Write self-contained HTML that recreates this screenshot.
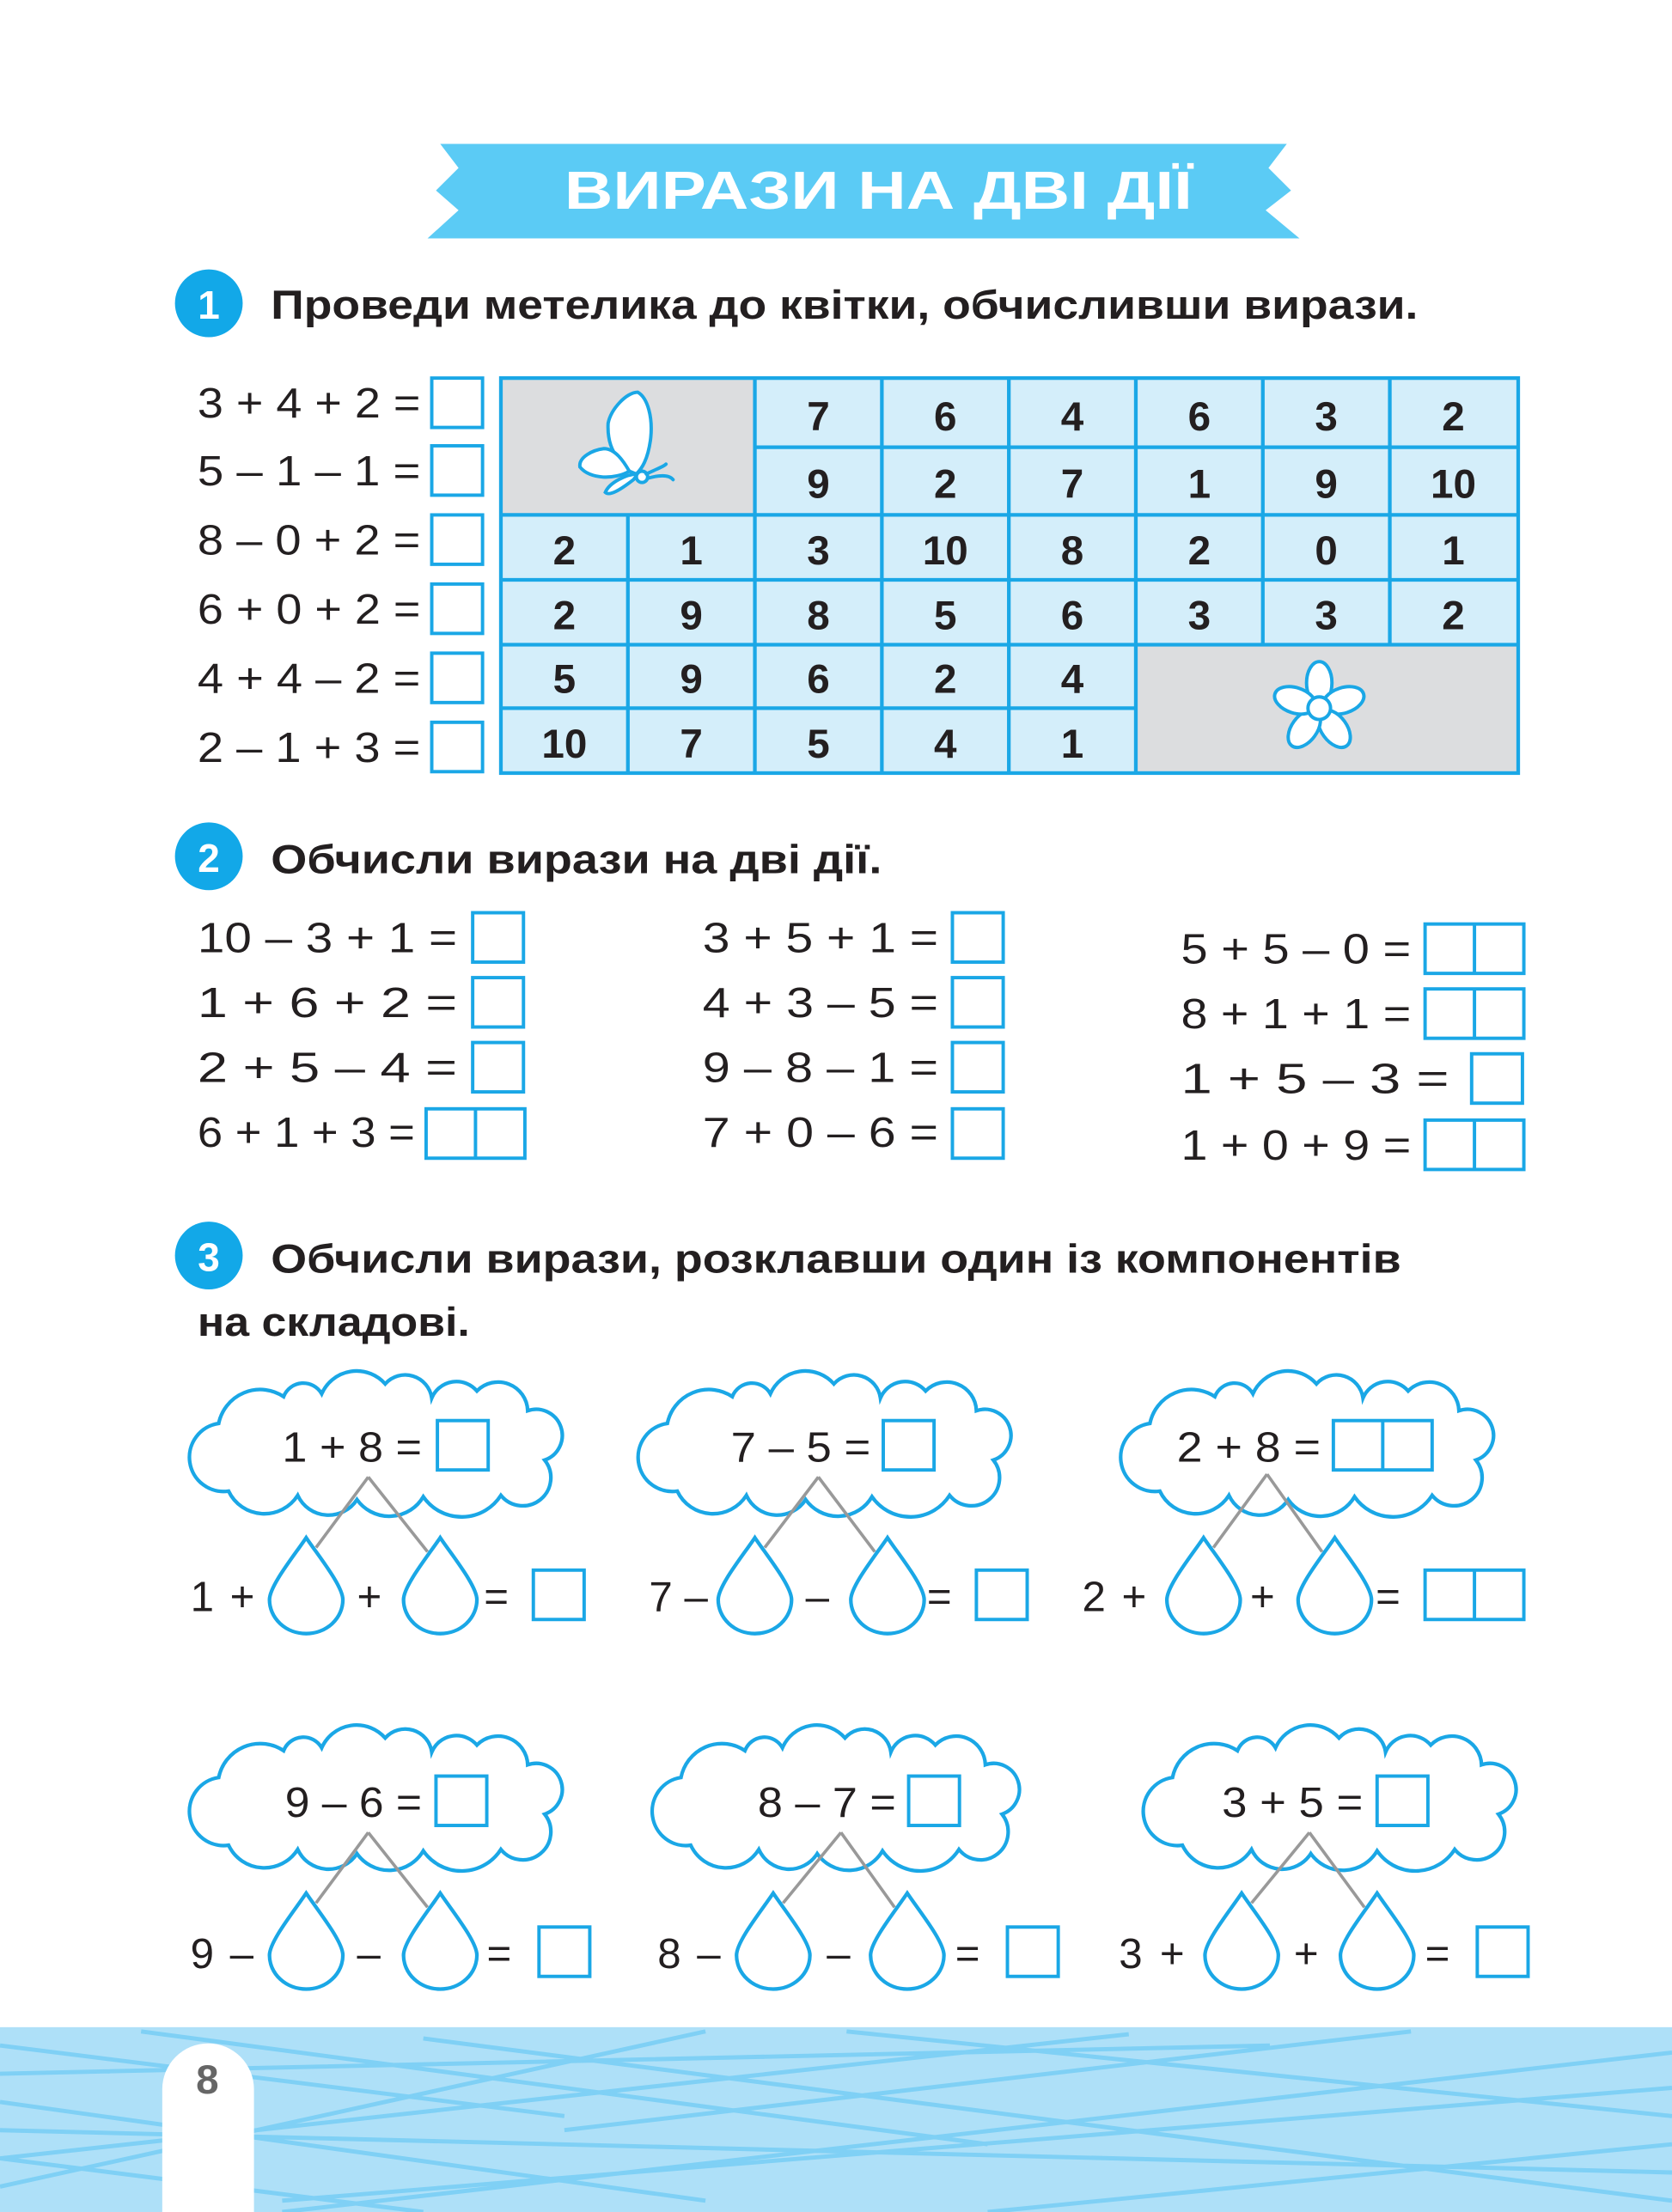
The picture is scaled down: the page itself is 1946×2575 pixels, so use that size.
<!DOCTYPE html>
<html><head><meta charset="utf-8"><style>
html,body{margin:0;padding:0;background:#fff}
svg{display:block}
text{font-family:"Liberation Sans",sans-serif;fill:#231f20}
.b{font-weight:bold}
</style></head><body>
<svg width="1946" height="2575" viewBox="0 0 1185 1568" xmlns="http://www.w3.org/2000/svg">
<defs>
<path id="cloud" d="M24,36 A30,30 0 0 1 70,17 A15,15 0 0 1 97,15 A27,27 0 0 1 142,8 A19,19 0 0 1 175,18 A19,19 0 0 1 207,13 A21,21 0 0 1 243,27 A1,1 0 0 1 255,62 A1,1 0 0 1 224,87 A33,33 0 0 1 169,88 A28,28 0 0 1 122,90 A24,24 0 0 1 80,87 A28,28 0 0 1 31,84 A1,1 0 0 1 24,36 Z" fill="#fff" stroke="#1aa7e6" stroke-width="2.6"/>
<path id="drop" d="M0,0 C-8,12 -26,34 -26,44 A26,24 0 0 0 26,44 C26,34 8,12 0,0 Z" fill="#fff" stroke="#1aa7e6" stroke-width="2.6"/>
<rect id="bx" width="36" height="35" fill="#fff" stroke="#1aa7e6" stroke-width="2.4"/>
<g id="bx2"><rect width="70" height="35" fill="#fff" stroke="#1aa7e6" stroke-width="2.4"/><line x1="35" y1="0" x2="35" y2="35" stroke="#1aa7e6" stroke-width="2.4"/></g>
</defs>

<polygon points="312,102 912,102 899,119 915,135 897,149 921,169 303,169 325,149 309,135 325,119" fill="#5bcbf5"/>
<text x="400" y="148" class="b" font-size="38" textLength="445" lengthAdjust="spacingAndGlyphs" style="fill:#fff">ВИРАЗИ НА ДВІ ДІЇ</text>

<circle cx="148" cy="215" r="24" fill="#12a8e8"/>
<text x="148" y="226" class="b" font-size="28" text-anchor="middle" style="fill:#fff">1</text>
<text x="192" y="226" class="b" font-size="29" textLength="813" lengthAdjust="spacingAndGlyphs">Проведи метелика до квітки, обчисливши вирази.</text>

<g font-size="30">
<text x="140" y="296" textLength="158" lengthAdjust="spacingAndGlyphs">3 + 4 + 2 =</text>
<text x="140" y="344" textLength="158" lengthAdjust="spacingAndGlyphs">5 – 1 – 1 =</text>
<text x="140" y="393" textLength="158" lengthAdjust="spacingAndGlyphs">8 – 0 + 2 =</text>
<text x="140" y="442" textLength="158" lengthAdjust="spacingAndGlyphs">6 + 0 + 2 =</text>
<text x="140" y="491" textLength="158" lengthAdjust="spacingAndGlyphs">4 + 4 – 2 =</text>
<text x="140" y="540" textLength="158" lengthAdjust="spacingAndGlyphs">2 – 1 + 3 =</text>
</g>
<use href="#bx" x="306" y="268"/><use href="#bx" x="306" y="316"/><use href="#bx" x="306" y="365"/>
<use href="#bx" x="306" y="414"/><use href="#bx" x="306" y="463"/><use href="#bx" x="306" y="512"/>

<rect x="355" y="268" width="721" height="280" fill="#d4eefa"/>
<rect x="355" y="268" width="180" height="97" fill="#dcdddf"/>
<rect x="805" y="457" width="271" height="91" fill="#dcdddf"/>
<g stroke="#1aa7e6" stroke-width="2.6" fill="none">
<rect x="355" y="268" width="721" height="280"/>
<line x1="535" y1="317" x2="1076" y2="317"/>
<line x1="355" y1="365" x2="1076" y2="365"/>
<line x1="355" y1="411" x2="1076" y2="411"/>
<line x1="355" y1="457" x2="1076" y2="457"/>
<line x1="355" y1="502" x2="805" y2="502"/>
<line x1="445" y1="365" x2="445" y2="548"/>
<line x1="535" y1="268" x2="535" y2="548"/>
<line x1="625" y1="268" x2="625" y2="548"/>
<line x1="715" y1="268" x2="715" y2="548"/>
<line x1="805" y1="268" x2="805" y2="548"/>
<line x1="895" y1="268" x2="895" y2="457"/>
<line x1="985" y1="268" x2="985" y2="457"/>
</g>
<g font-size="29" class="b" text-anchor="middle">
<text x="580" y="305">7</text><text x="670" y="305">6</text><text x="760" y="305">4</text><text x="850" y="305">6</text><text x="940" y="305">3</text><text x="1030" y="305">2</text>
<text x="580" y="353">9</text><text x="670" y="353">2</text><text x="760" y="353">7</text><text x="850" y="353">1</text><text x="940" y="353">9</text><text x="1030" y="353">10</text>
<text x="400" y="400">2</text><text x="490" y="400">1</text><text x="580" y="400">3</text><text x="670" y="400">10</text><text x="760" y="400">8</text><text x="850" y="400">2</text><text x="940" y="400">0</text><text x="1030" y="400">1</text>
<text x="400" y="446">2</text><text x="490" y="446">9</text><text x="580" y="446">8</text><text x="670" y="446">5</text><text x="760" y="446">6</text><text x="850" y="446">3</text><text x="940" y="446">3</text><text x="1030" y="446">2</text>
<text x="400" y="491">5</text><text x="490" y="491">9</text><text x="580" y="491">6</text><text x="670" y="491">2</text><text x="760" y="491">4</text>
<text x="400" y="537">10</text><text x="490" y="537">7</text><text x="580" y="537">5</text><text x="670" y="537">4</text><text x="760" y="537">1</text>
</g>
<g fill="#fff" stroke="#1aa7e6" stroke-width="2.4" stroke-linecap="round">
<path d="M446,334 C438,326 430,318 431,300 C433,290 444,278 452,278 C459,282 463,296 461,312 C459,326 455,332 451,336 Z"/>
<path d="M446,334 C436,340 418,340 411,331 C410,324 420,319 428,318 C436,318 442,327 446,334 Z"/>
<path d="M452,336 C444,336 432,342 429,349 C432,352 440,347 449,340 Z"/>
<circle cx="455" cy="338" r="4"/>
<path d="M458,336 C464,333 470,331 472,329 M459,339 C466,337 474,336 477,340" fill="none"/>
</g>
<g fill="#fff" stroke="#1aa7e6" stroke-width="2.4" transform="translate(935,502)">
<ellipse cx="0" cy="-18" rx="9" ry="15"/>
<ellipse cx="0" cy="-18" rx="9" ry="15" transform="rotate(72)"/>
<ellipse cx="0" cy="-18" rx="9" ry="15" transform="rotate(144)"/>
<ellipse cx="0" cy="-18" rx="9" ry="15" transform="rotate(216)"/>
<ellipse cx="0" cy="-18" rx="9" ry="15" transform="rotate(288)"/>
<circle cx="0" cy="0" r="8"/>
</g>

<circle cx="148" cy="607" r="24" fill="#12a8e8"/>
<text x="148" y="618" class="b" font-size="28" text-anchor="middle" style="fill:#fff">2</text>
<text x="192" y="619" class="b" font-size="29" textLength="433" lengthAdjust="spacingAndGlyphs">Обчисли вирази на дві дії.</text>
<g font-size="30">
<text x="140" y="675" textLength="184" lengthAdjust="spacingAndGlyphs">10 – 3 + 1 =</text>
<text x="140" y="721" textLength="184" lengthAdjust="spacingAndGlyphs">1 + 6 + 2 =</text>
<text x="140" y="767" textLength="184" lengthAdjust="spacingAndGlyphs">2 + 5 – 4 =</text>
<text x="140" y="813" textLength="154" lengthAdjust="spacingAndGlyphs">6 + 1 + 3 =</text>
<text x="498" y="675" textLength="167" lengthAdjust="spacingAndGlyphs">3 + 5 + 1 =</text>
<text x="498" y="721" textLength="167" lengthAdjust="spacingAndGlyphs">4 + 3 – 5 =</text>
<text x="498" y="767" textLength="167" lengthAdjust="spacingAndGlyphs">9 – 8 – 1 =</text>
<text x="498" y="813" textLength="167" lengthAdjust="spacingAndGlyphs">7 + 0 – 6 =</text>
<text x="837" y="683" textLength="163" lengthAdjust="spacingAndGlyphs">5 + 5 – 0 =</text>
<text x="837" y="729" textLength="163" lengthAdjust="spacingAndGlyphs">8 + 1 + 1 =</text>
<text x="837" y="775" textLength="190" lengthAdjust="spacingAndGlyphs">1 + 5 – 3 =</text>
<text x="837" y="822" textLength="163" lengthAdjust="spacingAndGlyphs">1 + 0 + 9 =</text>
</g>
<use href="#bx" x="335" y="647"/><use href="#bx" x="335" y="693"/><use href="#bx" x="335" y="739"/><use href="#bx2" x="302" y="786"/>
<use href="#bx" x="675" y="647"/><use href="#bx" x="675" y="693"/><use href="#bx" x="675" y="739"/><use href="#bx" x="675" y="786"/>
<use href="#bx2" x="1010" y="655"/><use href="#bx2" x="1010" y="701"/><use href="#bx" x="1043" y="747"/><use href="#bx2" x="1010" y="794"/>

<circle cx="148" cy="890" r="24" fill="#12a8e8"/>
<text x="148" y="901" class="b" font-size="28" text-anchor="middle" style="fill:#fff">3</text>
<text x="192" y="902" class="b" font-size="29" textLength="801" lengthAdjust="spacingAndGlyphs">Обчисли вирази, розклавши один із компонентів</text>
<text x="140" y="947" class="b" font-size="29" textLength="193" lengthAdjust="spacingAndGlyphs">на складові.</text>

<use href="#cloud" transform="translate(131,973)"/>
<use href="#cloud" transform="translate(449,973)"/>
<use href="#cloud" transform="translate(791,973)"/>
<use href="#cloud" transform="translate(131,1224)"/>
<use href="#cloud" transform="translate(459,1224) scale(0.985,1)"/>
<use href="#cloud" transform="translate(807,1224)"/>
<g stroke="#999" stroke-width="2.2">
<line x1="261" y1="1047" x2="224" y2="1097"/><line x1="261" y1="1047" x2="303" y2="1100"/>
<line x1="580" y1="1047" x2="542" y2="1097"/><line x1="580" y1="1047" x2="620" y2="1100"/>
<line x1="898" y1="1045" x2="860" y2="1097"/><line x1="898" y1="1045" x2="937" y2="1100"/>
<line x1="261" y1="1299" x2="224" y2="1349"/><line x1="261" y1="1299" x2="303" y2="1352"/>
<line x1="596" y1="1299" x2="555" y2="1349"/><line x1="596" y1="1299" x2="634" y2="1352"/>
<line x1="928" y1="1299" x2="887" y2="1349"/><line x1="928" y1="1299" x2="967" y2="1352"/>
</g>
<g font-size="30">
<text x="200" y="1036" textLength="99" lengthAdjust="spacingAndGlyphs">1 + 8 =</text>
<text x="518" y="1036" textLength="99" lengthAdjust="spacingAndGlyphs">7 – 5 =</text>
<text x="834" y="1036" textLength="102" lengthAdjust="spacingAndGlyphs">2 + 8 =</text>
<text x="202" y="1288" textLength="97" lengthAdjust="spacingAndGlyphs">9 – 6 =</text>
<text x="537" y="1288" textLength="98" lengthAdjust="spacingAndGlyphs">8 – 7 =</text>
<text x="866" y="1288" textLength="100" lengthAdjust="spacingAndGlyphs">3 + 5 =</text>
</g>
<use href="#bx" x="310" y="1007"/><use href="#bx" x="626" y="1007"/><use href="#bx2" x="945" y="1007"/>
<use href="#bx" x="309" y="1259"/><use href="#bx" x="644" y="1259"/><use href="#bx" x="976" y="1259"/>

<use href="#drop" x="217" y="1090"/><use href="#drop" x="312" y="1090"/>
<use href="#drop" x="535" y="1090"/><use href="#drop" x="629" y="1090"/>
<use href="#drop" x="853" y="1090"/><use href="#drop" x="946" y="1090"/>
<use href="#drop" x="217" y="1342"/><use href="#drop" x="312" y="1342"/>
<use href="#drop" x="548" y="1342"/><use href="#drop" x="643" y="1342"/>
<use href="#drop" x="880" y="1342"/><use href="#drop" x="976" y="1342"/>

<g font-size="30">
<text x="135" y="1142">1</text><text x="163" y="1142">+</text><text x="253" y="1142">+</text><text x="343" y="1142">=</text>
<text x="460" y="1142">7 –</text><text x="571" y="1142">–</text><text x="657" y="1142">=</text>
<text x="767" y="1142">2</text><text x="795" y="1142">+</text><text x="886" y="1142">+</text><text x="975" y="1142">=</text>
<text x="135" y="1395">9</text><text x="163" y="1395">–</text><text x="253" y="1395">–</text><text x="345" y="1395">=</text>
<text x="466" y="1395">8</text><text x="494" y="1395">–</text><text x="586" y="1395">–</text><text x="677" y="1395">=</text>
<text x="793" y="1395">3</text><text x="822" y="1395">+</text><text x="917" y="1395">+</text><text x="1010" y="1395">=</text>
</g>
<use href="#bx" x="378" y="1113"/><use href="#bx" x="692" y="1113"/><use href="#bx2" x="1010" y="1113"/>
<use href="#bx" x="382" y="1366"/><use href="#bx" x="714" y="1366"/><use href="#bx" x="1047" y="1366"/>

<rect x="0" y="1437" width="1185" height="131" fill="#aee0f8"/>
<g stroke="#7fd0f5" stroke-width="3" fill="none">
<path d="M0,1450 L400,1500 M100,1440 L700,1520 M300,1445 L1185,1560 M0,1490 L500,1560 M600,1440 L1185,1500 M0,1530 L300,1568 M800,1442 L0,1530 M1185,1455 L200,1568 M1000,1440 L400,1510 M1185,1520 L700,1568 M0,1470 L900,1450 M200,1560 L1185,1480 M0,1510 L1185,1540 M500,1440 L0,1550"/>
</g>
<path d="M115,1568 L115,1481 A32,32 0 0 1 180,1481 L180,1568 Z" fill="#fff"/>
<text x="147" y="1484" class="b" font-size="29" text-anchor="middle" style="fill:#666">8</text>
</svg>
</body></html>
